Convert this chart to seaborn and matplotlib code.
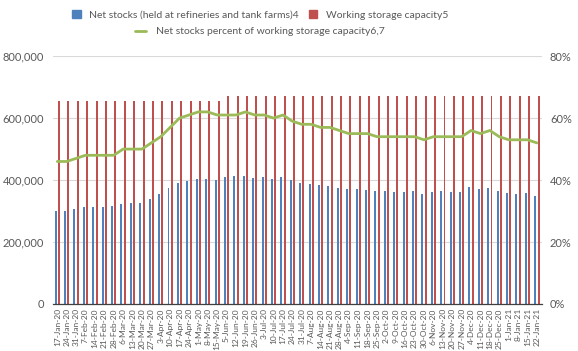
import pandas as pd
import matplotlib
matplotlib.use("Agg")
import matplotlib.pyplot as plt
import seaborn as sns
from matplotlib.patches import Patch
from matplotlib.lines import Line2D
from matplotlib.ticker import FuncFormatter

# data
dates = ["17-Jan-20", "24-Jan-20", "31-Jan-20", "7-Feb-20", "14-Feb-20", "21-Feb-20",
         "28-Feb-20", "6-Mar-20", "13-Mar-20", "20-Mar-20", "27-Mar-20", "3-Apr-20",
         "10-Apr-20", "17-Apr-20", "24-Apr-20", "1-May-20", "8-May-20", "15-May-20",
         "5-Jun-20", "12-Jun-20", "19-Jun-20", "26-Jun-20", "3-Jul-20", "10-Jul-20",
         "17-Jul-20", "24-Jul-20", "31-Jul-20", "7-Aug-20", "14-Aug-20", "21-Aug-20",
         "28-Aug-20", "4-Sep-20", "11-Sep-20", "18-Sep-20", "25-Sep-20", "2-Oct-20",
         "9-Oct-20", "16-Oct-20", "23-Oct-20", "30-Oct-20", "6-Nov-20", "13-Nov-20",
         "20-Nov-20", "27-Nov-20", "4-Dec-20", "11-Dec-20", "18-Dec-20", "25-Dec-20",
         "1-Jan-21", "8-Jan-21", "15-Jan-21", "22-Jan-21"]

net_stocks = [300, 300, 306, 313, 313, 313, 316, 323, 326, 326, 339, 355,
              374, 390, 397, 403, 403, 401, 410, 413, 413, 406, 410, 403,
              410, 400, 390, 387, 384, 381, 374, 371, 371, 368, 365, 365,
              361, 361, 365, 355, 361, 365, 361, 361, 377, 371, 374, 365,
              358, 355, 358, 348]
net_stocks = [v * 1000 for v in net_stocks]

capacity = [655000] * 18 + [671000] * 34

pct = [46, 46, 47, 48, 48, 48, 48, 50, 50, 50, 52, 54,
       57, 60, 61, 62, 62, 61, 61, 61, 62, 61, 61, 60,
       61, 59, 58, 58, 57, 57, 56, 55, 55, 55, 54, 54,
       54, 54, 54, 53, 54, 54, 54, 54, 56, 55, 56, 54,
       53, 53, 53, 52]

blue = "#4f81bd"
red = "#c0504d"
green = "#9bbb59"
grey_txt = "#595959"

df = pd.DataFrame({
    "date": dates * 2,
    "series": ["stocks"] * len(dates) + ["capacity"] * len(dates),
    "value": net_stocks + capacity,
})

sns.set_theme(style="white")
plt.rcParams["font.family"] = ["Lato", "DejaVu Sans"]

fig = plt.figure(figsize=(5.78, 3.51), dpi=100)
ax = fig.add_axes([0.091, 0.134, 0.846, 0.706])

sns.barplot(data=df, x="date", y="value", hue="series", order=dates,
            hue_order=["stocks", "capacity"], palette=[blue, red],
            width=0.7, gap=0.4, legend=False, ax=ax, errorbar=None,
            linewidth=0, saturation=1)

ax.set_ylim(0, 800000)
ax.set_xlim(-0.5, len(dates) - 0.5)
ax.set_yticks(range(0, 800001, 200000))
ax.yaxis.set_major_formatter(FuncFormatter(lambda v, p: f"{int(v):,}"))
ax.grid(axis="y", color="#d9d9d9", linewidth=0.8, linestyle="-")
ax.set_axisbelow(True)
ax.set_xlabel("")
ax.set_ylabel("")
for s in ["left", "right", "top"]:
    ax.spines[s].set_visible(False)
ax.spines["bottom"].set_color("#404040")
ax.spines["bottom"].set_linewidth(0.9)
ax.tick_params(axis="y", length=0, labelsize=8, labelcolor=grey_txt, pad=6)
ax.tick_params(axis="x", length=0, labelsize=6, labelcolor=grey_txt, rotation=90, pad=3)

ax2 = ax.twinx()
sns.lineplot(x=list(range(len(dates))), y=pct, color=green, linewidth=2.0, ax=ax2)
ax2.set_ylim(0, 80)
ax2.set_yticks(range(0, 81, 20))
ax2.yaxis.set_major_formatter(FuncFormatter(lambda v, p: f"{int(v)}%"))
ax2.tick_params(axis="y", length=0, labelsize=8, labelcolor=grey_txt, pad=6)
ax2.grid(False)
for s in ["left", "right", "top", "bottom"]:
    ax2.spines[s].set_visible(False)

h1 = [Patch(color=blue), Patch(color=red)]
l1 = ["Net stocks (held at refineries and tank farms)4", "Working storage capacity5"]
leg1 = fig.legend(h1, l1, loc="center", bbox_to_anchor=(0.45, 0.958), ncol=2,
                  frameon=False, fontsize=7.5, handlelength=0.8, handleheight=0.8,
                  columnspacing=1.0, handletextpad=0.8)
for t in leg1.get_texts():
    t.set_color(grey_txt)
h2 = [Line2D([0], [0], color=green, linewidth=2.0)]
leg2 = fig.legend(h2, ["Net stocks percent of working storage capacity6,7"], loc="center",
                  bbox_to_anchor=(0.45, 0.91), frameon=False, fontsize=7.5,
                  handlelength=1.0, handletextpad=1.0)
for t in leg2.get_texts():
    t.set_color(grey_txt)

fig.savefig("out.png", dpi=100)
